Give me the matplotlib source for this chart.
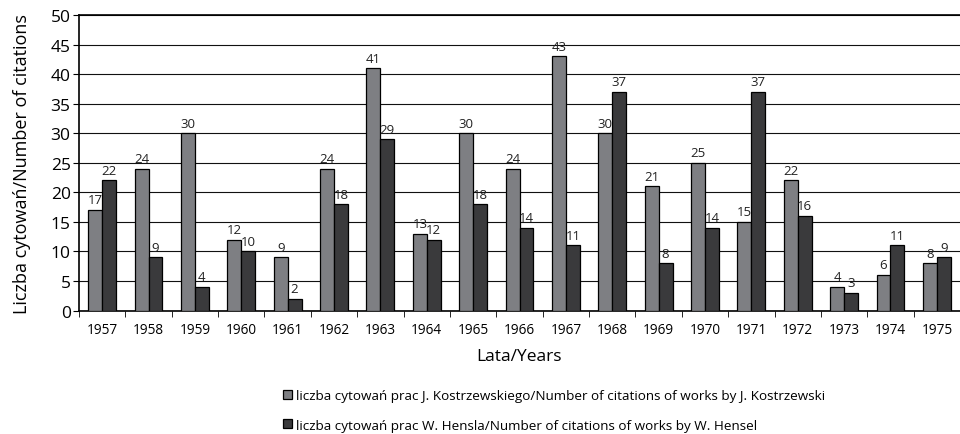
import matplotlib
matplotlib.use("Agg")
import matplotlib.pyplot as plt
import numpy as np

years = ["1957", "1958", "1959", "1960", "1961", "1962", "1963", "1964", "1965", "1966",
         "1967", "1968", "1969", "1970", "1971", "1972", "1973", "1974", "1975"]
kostrzewski = [17, 24, 30, 12, 9, 24, 41, 13, 30, 24, 43, 30, 21, 25, 15, 22, 4, 6, 8]
hensel = [22, 9, 4, 10, 2, 18, 29, 12, 18, 14, 11, 37, 8, 14, 37, 16, 3, 11, 9]
label_k = "liczba cytowań prac J. Kostrzewskiego/Number of citations of works by J. Kostrzewski"
label_h = "liczba cytowań prac W. Hensla/Number of citations of works by W. Hensel"

plt.rcParams['font.family'] = ['Open Sans', 'DejaVu Sans']

fig = plt.figure(figsize=(9.6, 4.35), dpi=100)
ax = fig.add_axes([79/960, 1 - 311.5/435, (960 - 79)/960, (311.5 - 16)/435])

x = np.arange(len(years))
w = 0.3
c_k = "#7e7f83"
c_h = "#3a3a3c"
bk = ax.bar(x - w/2, kostrzewski, w, color=c_k, edgecolor="black", linewidth=0.9, label=label_k, zorder=3)
bh = ax.bar(x + w/2, hensel, w, color=c_h, edgecolor="black", linewidth=0.9, label=label_h, zorder=3)

for xi, v in zip(x - w/2, kostrzewski):
    ax.text(xi, v + 0.6, str(v), ha="center", va="bottom", fontsize=9.5, color="#222222")
for xi, v in zip(x + w/2, hensel):
    ax.text(xi, v + 0.6, str(v), ha="center", va="bottom", fontsize=9.5, color="#222222")

ax.set_ylim(0, 50)
ax.set_xlim(-0.5, len(years) - 0.5)
ax.set_yticks(np.arange(0, 51, 5))
ax.yaxis.grid(True, color="#111111", linewidth=0.8, zorder=0)
ax.set_axisbelow(True)
ax.set_xticks(x)
ax.set_xticklabels(years, fontsize=9.8)
ax.set_xticks(np.arange(-0.5, len(years), 1), minor=True)
ax.tick_params(axis="x", which="major", length=0, pad=8)
ax.tick_params(axis="x", which="minor", length=4, direction="out", color="black")
ax.tick_params(axis="y", labelsize=12.5, length=4, pad=2, color="black")
ax.spines["right"].set_visible(False)
ax.spines["top"].set_linewidth(1.2)
ax.spines["left"].set_linewidth(1.2)
ax.spines["bottom"].set_linewidth(1.2)
ax.set_ylabel("Liczba cytowań/Number of citations", fontsize=13, labelpad=14)
ax.set_xlabel("Lata/Years", fontsize=12.5, labelpad=8)

fig.legend(handles=[bk, bh], loc="upper left", bbox_to_anchor=(278/960, 1 - 385/435),
           frameon=False, fontsize=9.7, handlelength=0.65, handleheight=0.65,
           handletextpad=0.3, labelspacing=1.2, borderaxespad=0)

fig.savefig("out.png", dpi=100)
